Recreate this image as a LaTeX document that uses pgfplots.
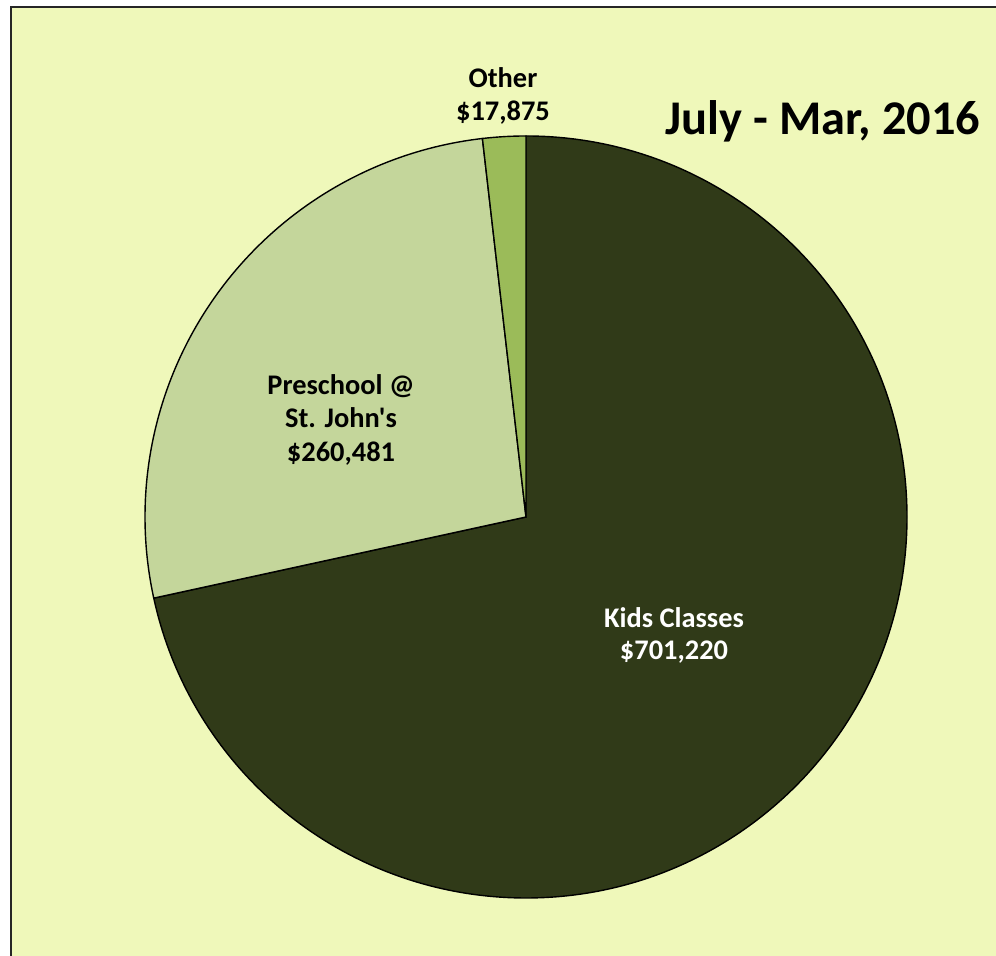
\documentclass[border=0pt]{standalone}
\usepackage{pgfplots}
\pgfplotsset{compat=1.18}
\usepackage{pgfplotstable}
\usepackage{fontspec}
\setmainfont{Carlito}
\newfontfamily\calibri{Carlito}

\definecolor{chartbg}{HTML}{EFF8BA}
\definecolor{kidscol}{HTML}{303A18}
\definecolor{prescol}{HTML}{C4D69B}
\definecolor{othercol}{HTML}{9BBB59}

% income by programme, July - Mar 2016
\pgfplotstableread{
label value
Kids 701220
Preschool 260481
Other 17875
}\piedata

\begin{document}
\begin{tikzpicture}
% 1 px of the reference = 0.5pt
\useasboundingbox (0,0) rectangle (498pt,478pt);
\fill[white] (0,0) rectangle (498pt,478pt);
\fill[chartbg] (5.5pt,0) rectangle (498pt,474.5pt);
\draw[line width=1pt, black!85] (5.5pt,0) -- (5.5pt,474.5pt) -- (498pt,474.5pt);

% angles of the slices, clockwise from the top
\pgfplotstablegetelem{0}{value}\of\piedata \let\vA\pgfplotsretval
\pgfplotstablegetelem{1}{value}\of\piedata \let\vB\pgfplotsretval
\pgfplotstablegetelem{2}{value}\of\piedata \let\vC\pgfplotsretval
\edef\total{\fpeval{\vA+\vB+\vC}}
\edef\angA{90}
\edef\angB{\fpeval{round(\angA-360*\vA/\total,3)}}
\edef\angC{\fpeval{round(\angB-360*\vB/\total,3)}}
\edef\angD{\fpeval{round(\angC-360*\vC/\total,3)}}

\begin{axis}[
    at={(263pt,219.5pt)}, anchor=center,
    x=190.5pt, y=190.5pt,
    xmin=-1, xmax=1, ymin=-1, ymax=1,
    hide axis, clip=false,
]
\fill[kidscol, draw=black, line width=0.7pt]
    (axis cs:0,0) -- ++(\angA:190.5pt) arc[start angle=\angA, end angle=\angB, radius=190.5pt] -- cycle;
\fill[prescol, draw=black, line width=0.7pt]
    (axis cs:0,0) -- ++(\angB:190.5pt) arc[start angle=\angB, end angle=\angC, radius=190.5pt] -- cycle;
\fill[othercol, draw=black, line width=0.7pt]
    (axis cs:0,0) -- ++(\angC:190.5pt) arc[start angle=\angC, end angle=\angD, radius=190.5pt] -- cycle;
\end{axis}

% slice labels
\begin{scope}[every node/.style={anchor=base, inner sep=0pt, font=\calibri\fontsize{14.2}{16.5}\selectfont\bfseries}]
\node at (251.5pt,434pt) {Other};
\node at (251.5pt,417.5pt) {\$17,875};
\node at (170.5pt,280.5pt) {Preschool @};
\node at (170.5pt,264pt) {St. John's};
\node at (170.5pt,247pt) {\$260,481};
\node[white] at (337pt,164pt) {Kids Classes};
\node[white] at (337pt,148pt) {\$701,220};
\end{scope}

\node[anchor=base, inner sep=0pt, font=\calibri\fontsize{24.2}{29}\selectfont\bfseries] at (411.5pt,410.5pt) {July - Mar, 2016};
\end{tikzpicture}
\end{document}
